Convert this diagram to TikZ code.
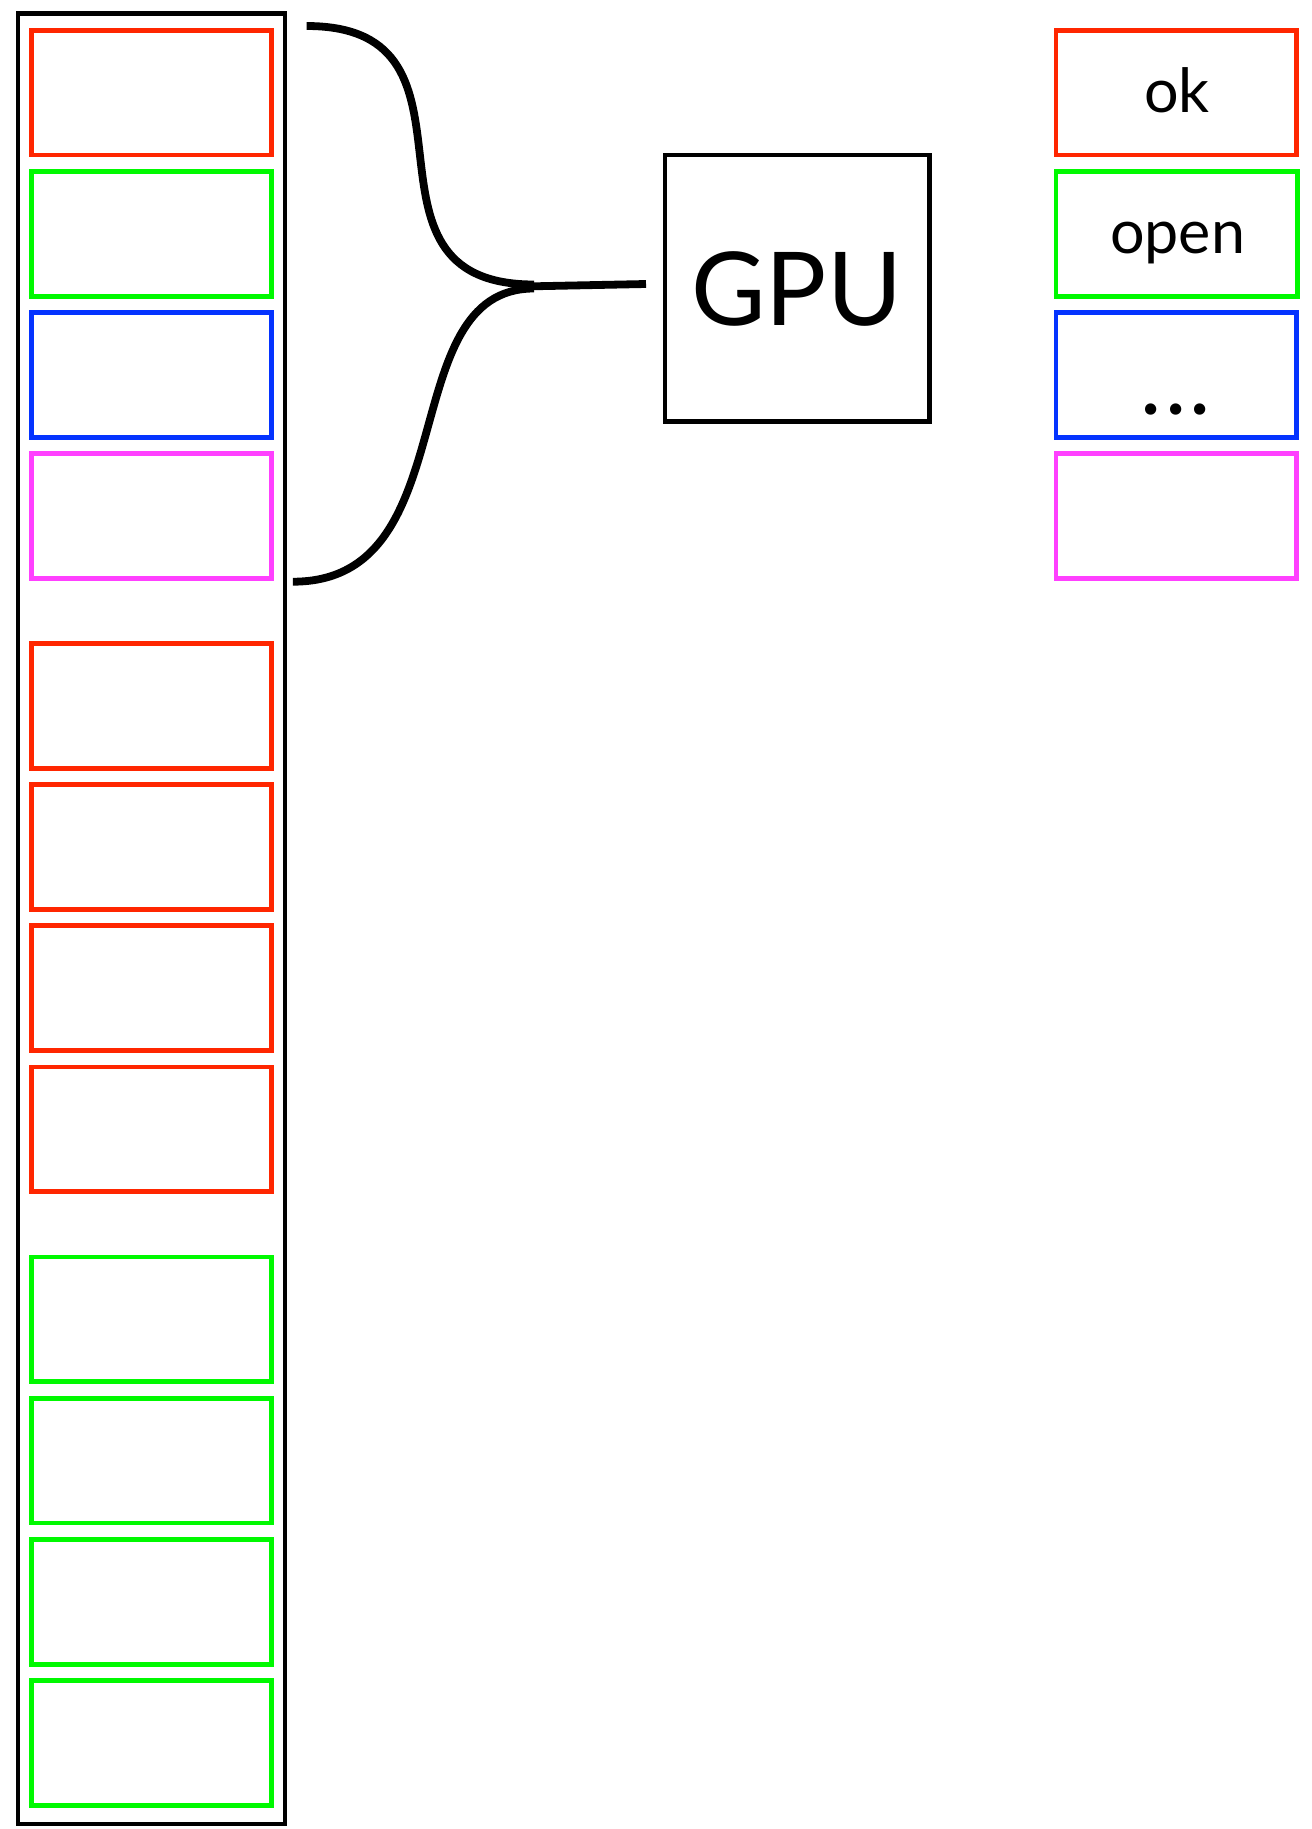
\documentclass[tikz,border=0pt]{standalone}
\usepackage{fontspec}
\setmainfont{Lato}

% classic crayon colours
\definecolor{slotred}{RGB}{255,38,0}
\definecolor{slotgreen}{RGB}{0,249,0}
\definecolor{slotblue}{RGB}{4,51,255}
\definecolor{slotmagenta}{RGB}{255,64,255}

\begin{document}
\begin{tikzpicture}[x=1pt, y=-1pt,
  slot/.style={draw=#1, line width=4.8pt, minimum width=239.7pt,
               minimum height=124.8pt, inner sep=0pt, shape=rectangle},
  legend/.style={draw=#1, line width=4.8pt, minimum width=240.2pt,
                 minimum height=124.8pt, inner sep=0pt, shape=rectangle},
  frame/.style={draw=black, line width=4.4pt, inner sep=0pt, shape=rectangle},
  label/.style={anchor=base, inner sep=0pt, text=black},
  brace/.style={draw=black, line width=7.8pt, line cap=butt},
]
\useasboundingbox (0,0) rectangle (1312,1829);

% outer column
\node[frame, minimum width=266.7pt, minimum height=1810.4pt] (column) at (151.35,918.8) {};

% first group of slots
\node[slot=slotred]     (s1)  at (151.35, 92.6)  {};
\node[slot=slotgreen]   (s2)  at (151.35, 233.8) {};
\node[slot=slotblue]    (s3)  at (151.35, 375.0) {};
\node[slot=slotmagenta] (s4)  at (151.35, 516.2) {};

% red group
\node[slot=slotred] (s5)  at (151.35, 705.7)  {};
\node[slot=slotred] (s6)  at (151.35, 846.9)  {};
\node[slot=slotred] (s7)  at (151.35, 988.1)  {};
\node[slot=slotred] (s8)  at (151.35, 1129.3) {};

% green group
\node[slot=slotgreen] (s9)  at (151.35, 1319.4) {};
\node[slot=slotgreen] (s10) at (151.35, 1460.6) {};
\node[slot=slotgreen] (s11) at (151.35, 1601.8) {};
\node[slot=slotgreen] (s12) at (151.35, 1743.0) {};

% GPU box
\node[frame, minimum width=264.3pt, minimum height=266.7pt] (gpu) at (797.2,288.3) {};
\node[label, font=\fontsize{102}{102}\selectfont] (gputext) at (796.7,325) {GPU};

% legend
\node[legend=slotred]     (l1) at (1176.0, 92.6)  {};
\node[legend=slotgreen, minimum width=241.8pt] (l2) at (1176.8, 233.8) {};
\node[legend=slotblue]    (l3) at (1176.0, 375.0) {};
\node[legend=slotmagenta] (l4) at (1176.0, 516.2) {};
\node[label, font=\fontsize{61}{61}\selectfont] (oktext) at (1177,112.7) {ok};
\node[label, font=\fontsize{61}{61}\selectfont] (opentext) at (1177.5,253.3) {open};
\node[label, font=\fontsize{90}{90}\selectfont] (moretext) at (1175.7,414) {.\kern3.2pt.\kern3.2pt.};

% brace gathering the first four slots into the GPU
\coordinate (bracetop) at (306.6,26);
\coordinate (bracebot) at (292.9,581.7);
\coordinate (joinA) at (534,284.5);
\coordinate (joinB) at (534,288.5);
\coordinate (joinC) at (533,286.3);
\coordinate (feed) at (646,284);
\draw[brace] (bracetop) .. controls (503.6,26) and (336,284.5) .. (joinA);
\draw[brace] (bracebot) .. controls (468,581.7) and (391.3,288.5) .. (joinB);
\draw[brace] (joinC) -- (feed);
\end{tikzpicture}
\end{document}
